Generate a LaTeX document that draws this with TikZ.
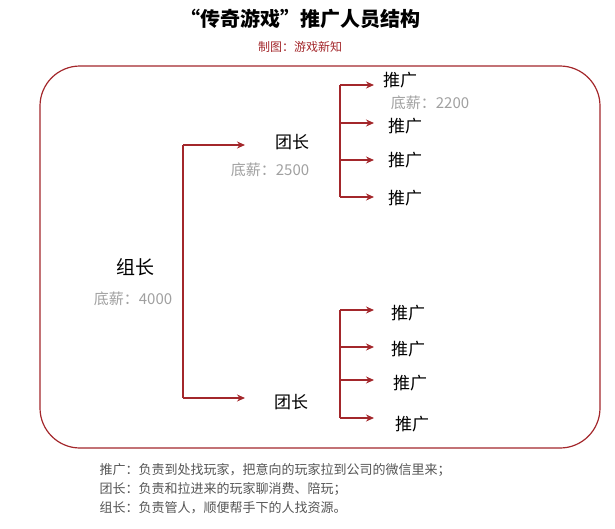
\documentclass[tikz,border=0pt]{standalone}
\usepackage{fontspec}
\setmainfont{Noto Sans CJK SC}
\usetikzlibrary{arrows.meta}
\definecolor{dred}{HTML}{A3272B}
\definecolor{lgray}{HTML}{A0A0A0}
\definecolor{tgray}{HTML}{555555}
\begin{document}
\begin{tikzpicture}[x=1pt,y=-1pt,
  lab/.style={font=\fontsize{17}{19}\selectfont,inner sep=1pt},
  sal/.style={font=\fontsize{15}{17}\selectfont,text=lgray,inner sep=1pt},
  con/.style={draw=dred,line width=1.4pt,-{Stealth[length=8pt,width=7pt]}},
  trunk/.style={draw=dred,line width=1.4pt}]
\useasboundingbox (0,0) rectangle (615,528);
\node[font=\fontsize{20}{23}\selectfont\bfseries] (title) at (300,19) {“传奇游戏”推广人员结构};
\node[font=\fontsize{12}{14}\selectfont,text=dred] (sub) at (300,47) {制图：游戏新知};
\draw[draw=dred,line width=1.2pt,rounded corners=40pt] (40,66) rectangle (600,448);
\node[lab,font=\fontsize{19}{21}\selectfont] (zz) at (135,267) {组长};
\node[sal] (zzs) at (133,299) {底薪：4000};
\node[lab] (t1) at (292,142) {团长};
\node[sal] (t1s) at (270,170) {底薪：2500};
\node[lab] (t2) at (291,402) {团长};
\foreach \n/\x/\y in {a/400/80,b/405/126,c/405/160,d/405/198,e/408/313,f/408/349,g/410/383,h/412/424}
  \node[lab] (p\n) at (\x,\y) {推广};
\node[sal] (ps) at (430,103) {底薪：2200};
\coordinate (m1) at (183,145); \coordinate (m2) at (183,398);
\draw[trunk] (m1) -- (m2);
\draw[con] (m1) -- (245,145);
\draw[con] (m2) -- (245,398);
\coordinate (u1) at (340,85); \coordinate (u2) at (340,197);
\draw[trunk] (u1) -- (u2);
\foreach \y in {85,123,160,197} \draw[con] (340,\y) -- (374,\y);
\coordinate (l1) at (340,310); \coordinate (l2) at (340,418);
\draw[trunk] (l1) -- (l2);
\foreach \y in {310,347,380,418} \draw[con] (340,\y) -- (374,\y);
\node[anchor=west,text=tgray,font=\fontsize{13}{15}\selectfont] (n1) at (96,470) {推广：负责到处找玩家，把意向的玩家拉到公司的微信里来；};
\node[anchor=west,text=tgray,font=\fontsize{13}{15}\selectfont] (n2) at (96,489) {团长：负责和拉进来的玩家聊消费、陪玩；};
\node[anchor=west,text=tgray,font=\fontsize{13}{15}\selectfont] (n3) at (96,508) {组长：负责管人，顺便帮手下的人找资源。};
\end{tikzpicture}
\end{document}
